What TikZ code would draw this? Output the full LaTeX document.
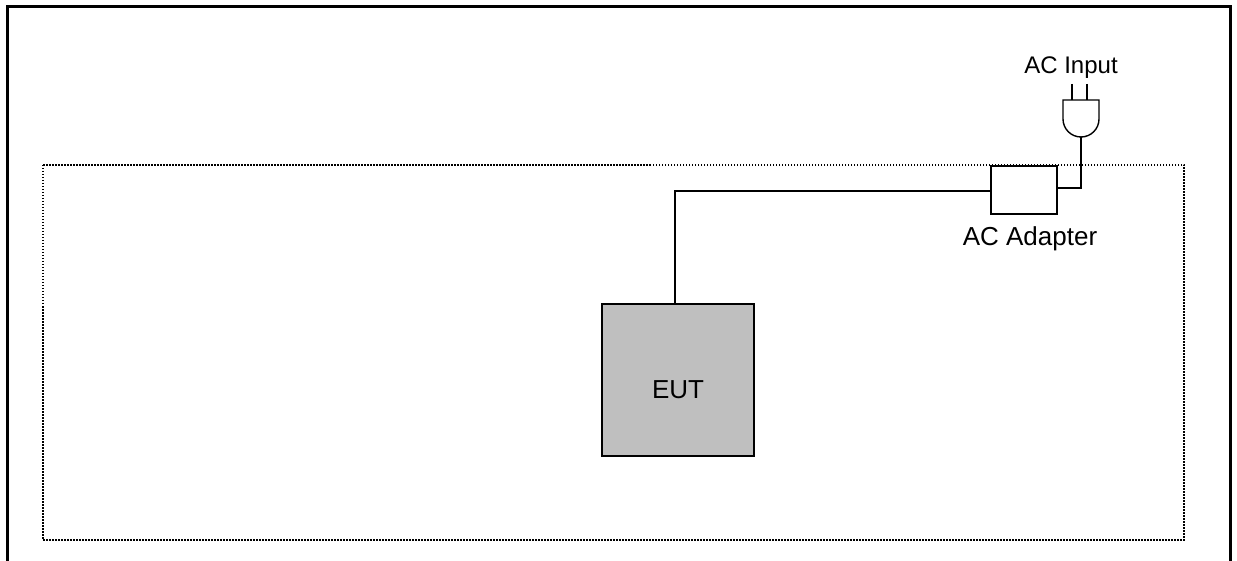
\documentclass[tikz,border=0pt]{standalone}
\usepackage{fontspec}
\setmainfont{Liberation Sans}
\begin{document}
\begin{tikzpicture}[x=1pt,y=-1pt,
  lbl/.style={font=\fontsize{24}{28}\selectfont, inner sep=0pt, anchor=base},
  cable/.style={line width=1.4pt},
  dut/.style={draw, line width=2pt, fill=black!25, minimum width=152pt, minimum height=152pt, inner sep=0pt, text height=36pt, text depth=0pt, font=\fontsize{26}{30}\selectfont},
  adbox/.style={draw, line width=1.4pt, fill=white, minimum width=66pt, minimum height=48pt, inner sep=0pt}]
\useasboundingbox (0,0) rectangle (1237,561);
% outer frame
\draw[line width=3pt] (7,561) -- (7,7) -- (1230,7) -- (1230,561);
% dotted test area
\draw[line width=1.4pt, dash pattern=on 1.5pt off 1.5pt] (43,165) rectangle (1184,540);
% nodes
\node[dut] (eut) at (678,380) {EUT};
\node[adbox] (adapter) at (1024,190) {};
\node[lbl, font=\fontsize{26}{30}\selectfont] (adlbl) at (1030,246) {AC Adapter};
\node[lbl] (inlbl) at (1071,74) {AC Input};
% plug
\draw[line width=1.4pt, fill=white] (1063,100) -- (1099,100) -- (1099,119) arc[start angle=0, end angle=-180, radius=18pt] -- cycle;
\coordinate (plugtip) at (1081,137);
\draw[line width=1.4pt] (1072,84) -- (1072,100);
\draw[line width=1.4pt] (1087,84) -- (1087,100);
% cables
\draw[cable] (eut.north -| 675,0) |- (adapter.west |- 0,191);
\draw[cable] (adapter.east |- 0,188) -| (plugtip);
\end{tikzpicture}
\end{document}
